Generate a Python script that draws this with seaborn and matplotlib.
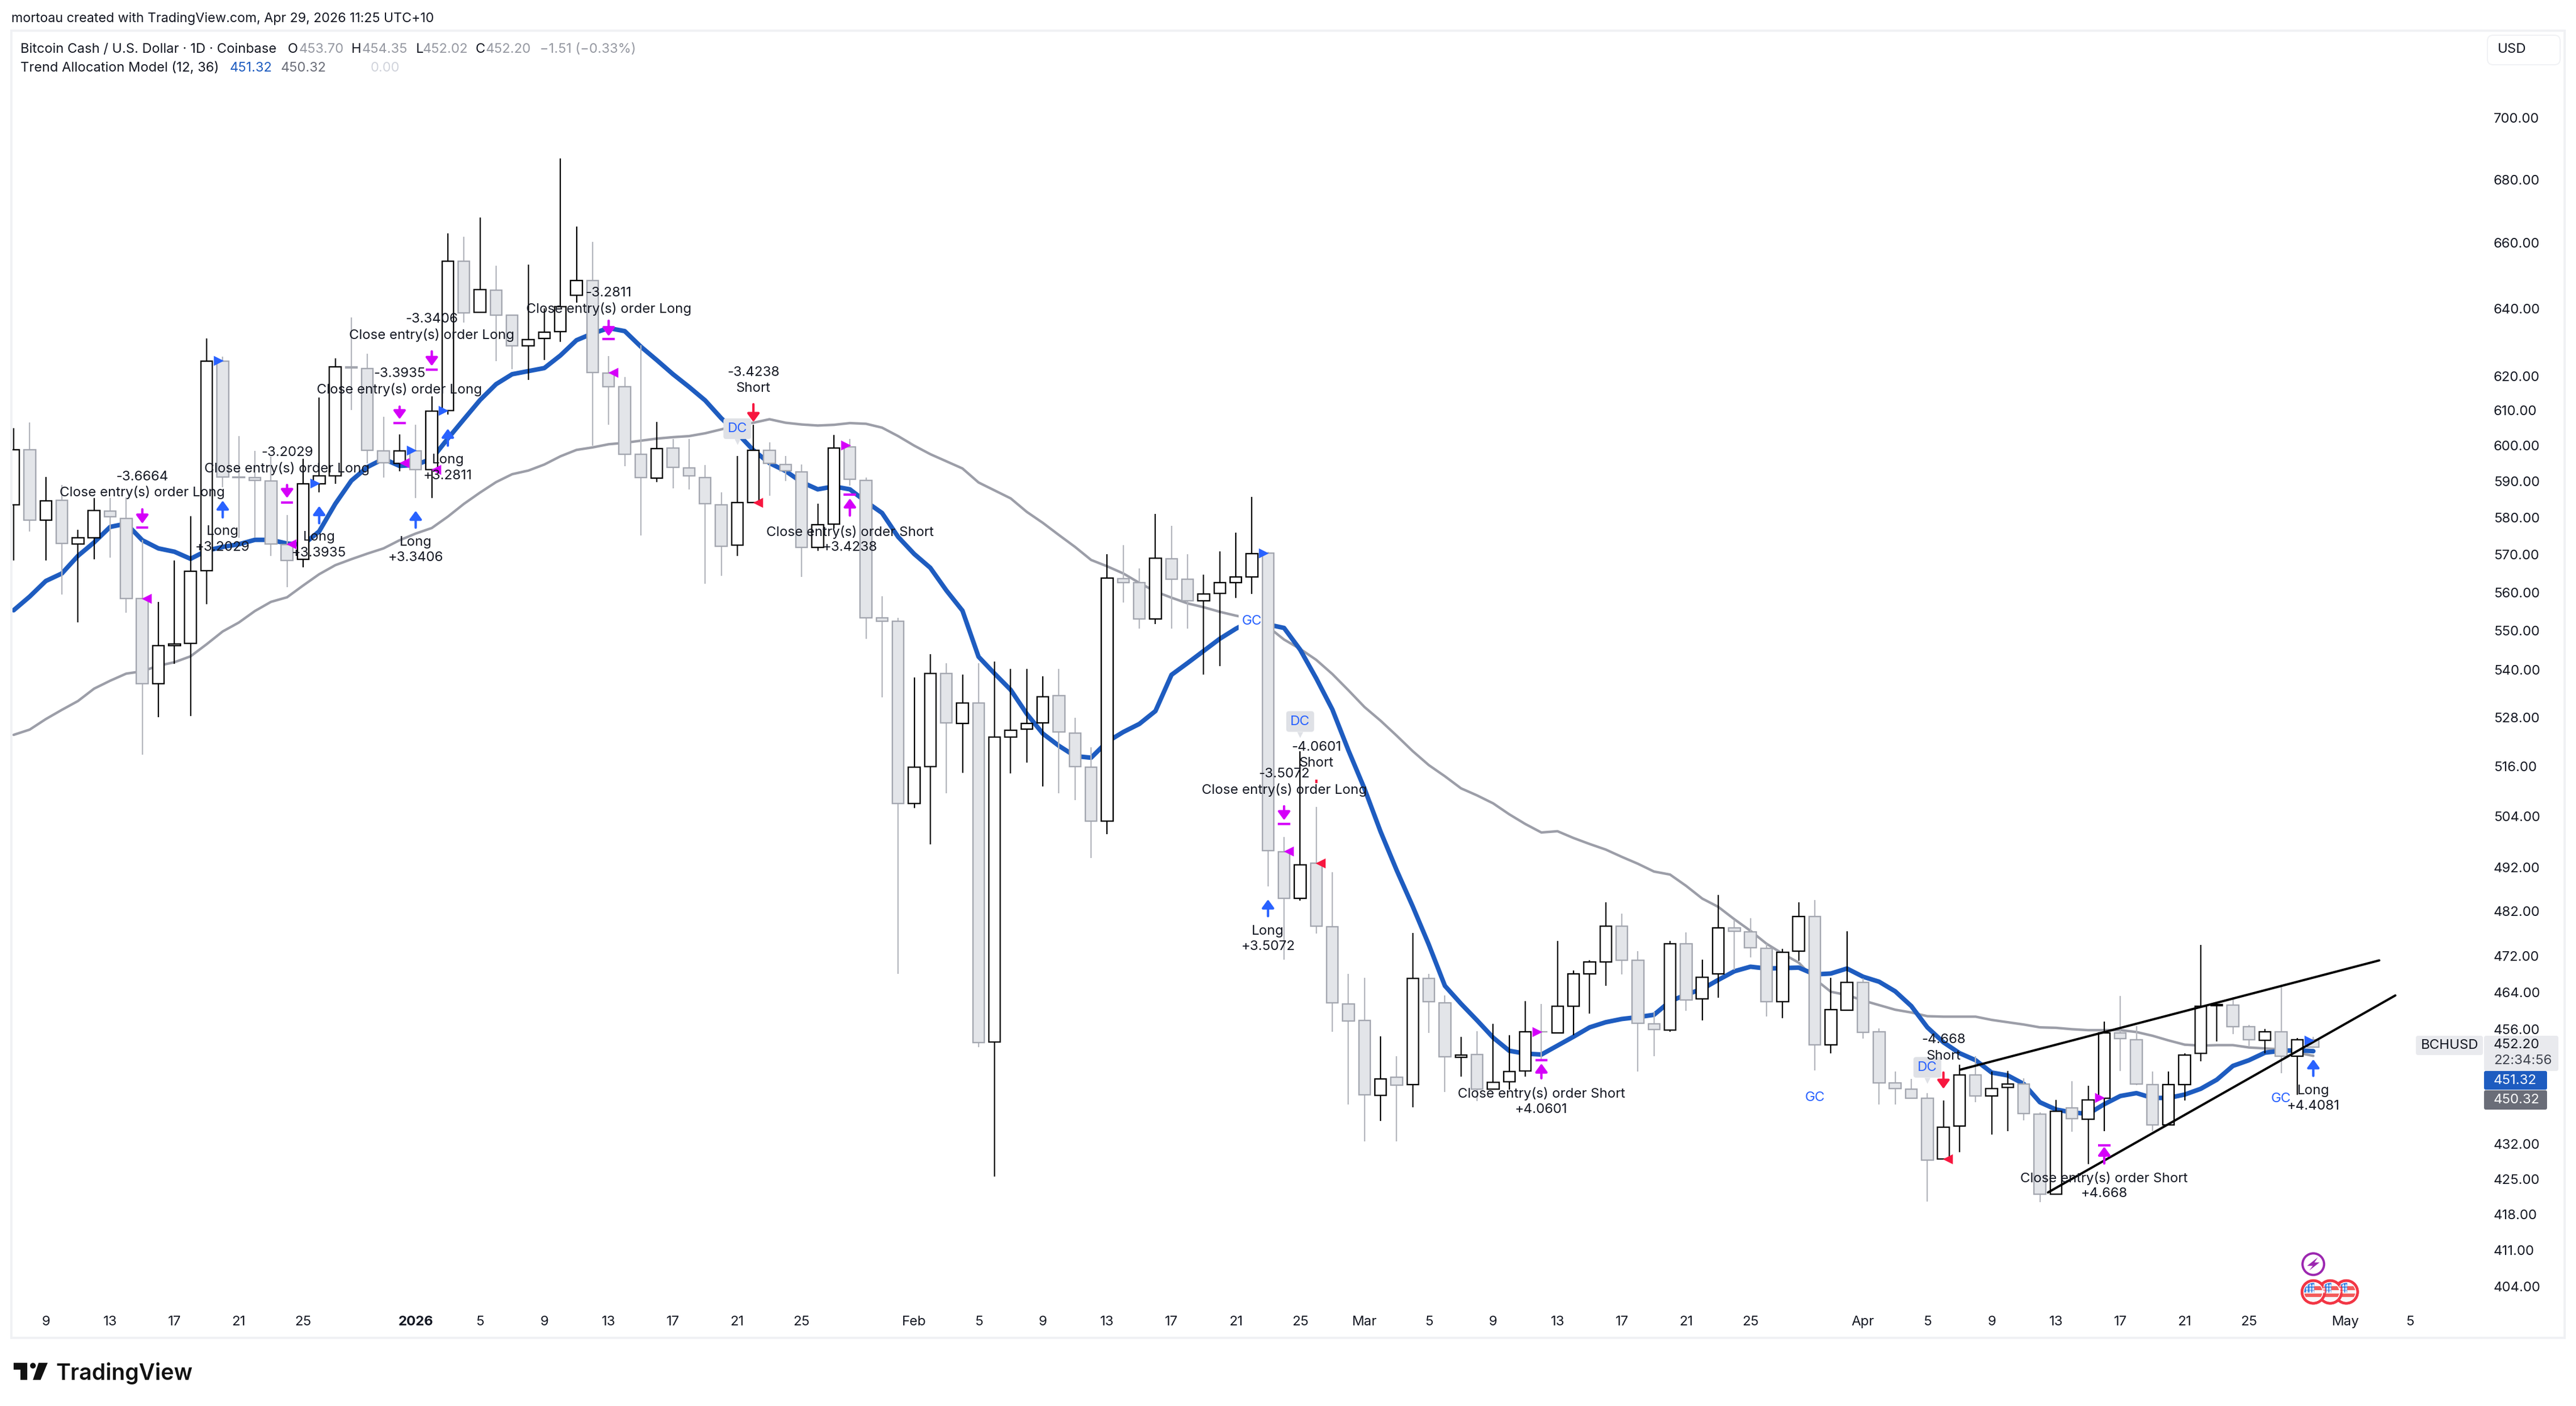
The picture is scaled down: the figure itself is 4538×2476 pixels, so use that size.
import matplotlib
matplotlib.use("Agg")
import matplotlib.pyplot as plt
import seaborn as sns
import numpy as np
import pandas as pd
from matplotlib.patches import Rectangle, Polygon, Circle, FancyBboxPatch
from matplotlib.ticker import NullLocator, FixedLocator, FixedFormatter

# ---------------- data ----------------
first_day = -2  # candle index relative to 9 Dec 2025
opens = [583.5,598.9,579.3,584.8,572.9,574.5,581.8,579.8,558.4,536.4,546.2,546.7,565.8,624.4,591.2,591.0,590.1,572.8,568.7,589.4,
591.6,622.6,622.1,598.5,595.1,598.5,593.3,610.0,654.3,638.8,645.5,637.9,628.9,631.0,633.0,643.9,648.5,620.9,616.9,597.5,
590.9,599.4,593.7,591.1,583.6,572.5,584.2,598.7,594.7,592.6,571.9,578.3,599.6,590.3,553.4,552.4,507.1,516.0,539.0,526.5,
531.6,453.3,523.2,525.1,526.7,533.4,524.1,515.8,502.9,563.6,562.6,553.1,568.9,563.5,557.8,559.7,562.6,564.1,570.5,495.7,
484.9,493.0,478.5,461.5,457.9,442.0,445.8,444.3,467.0,461.7,450.0,450.6,443.3,444.9,447.1,455.5,455.2,460.9,468.0,470.7,
478.6,471.0,457.1,455.8,474.7,462.6,468.0,478.2,477.4,473.7,461.9,473.0,480.8,452.6,460.1,466.1,455.4,444.6,443.3,441.4,
429.0,435.7,446.3,441.9,443.7,444.4,438.1,422.0,439.4,437.1,441.4,455.2,453.7,444.3,435.9,444.3,450.8,461.1,461.2,456.5,
453.6,455.4,450.2,453.70]
highs = [605.0,606.5,591.2,589.0,576.7,585.4,585.4,585.6,573.9,557.5,568.4,580.4,631.0,625.6,602.7,598.5,597.0,580.7,596.3,613.7,
625.2,637.3,626.5,608.2,603.2,606.0,614.0,663.0,662.0,668.0,653.0,638.2,653.3,640.1,686.7,665.1,660.3,625.9,619.6,629.0,
606.7,601.9,601.9,594.5,587.0,597.1,605.9,600.9,597.1,594.7,583.8,603.0,601.9,591.1,559.0,553.4,538.0,544.0,541.6,538.7,
541.6,542.0,540.2,540.2,538.3,540.2,527.9,520.7,570.2,572.5,566.3,581.0,577.8,570.1,564.7,570.9,575.9,585.7,570.7,499.1,
519.7,506.2,490.9,468.0,467.1,454.5,450.2,477.1,468.0,463.3,454.4,455.6,457.1,454.7,462.1,461.4,475.3,468.8,471.0,484.0,
481.4,473.0,459.7,475.3,477.3,471.2,485.7,480.0,480.4,474.7,473.5,484.0,484.5,467.1,477.5,467.0,456.2,447.0,445.5,442.5,
441.0,448.4,450.2,447.0,447.1,445.6,438.5,441.1,445.0,444.0,457.7,463.2,456.7,447.0,447.0,450.9,474.4,461.8,462.9,456.9,
456.0,465.6,454.1,454.35]
lows = [568.4,576.3,568.4,559.4,552.1,568.7,569.2,554.6,518.9,528.1,541.5,528.4,556.9,588.4,574.5,574.5,569.6,561.4,566.6,586.9,
589.4,610.2,595.1,591.0,592.8,585.4,585.4,608.8,635.8,638.8,624.3,622.0,618.9,624.7,630.0,641.7,600.0,606.0,594.2,575.2,
589.8,588.0,587.7,562.3,564.4,569.6,584.2,586.0,590.1,564.0,571.1,577.1,588.9,547.9,533.0,468.0,506.0,497.4,509.5,514.4,
452.2,425.5,514.3,516.9,511.1,509.5,507.9,494.2,499.8,557.3,550.6,551.7,550.5,550.5,538.7,540.9,558.6,559.5,487.7,471.1,
484.4,477.0,455.4,440.2,432.6,436.7,432.6,439.5,455.2,442.7,446.0,440.8,443.2,443.2,446.0,449.4,455.1,454.7,459.3,465.4,
467.9,447.0,450.3,455.4,460.0,457.9,462.8,468.9,471.7,458.8,458.4,470.9,447.2,450.8,460.1,454.0,440.1,440.1,441.3,420.5,
429.0,430.4,440.6,433.9,434.7,436.9,420.4,421.8,434.5,428.0,434.6,447.1,444.2,434.7,435.9,441.0,449.2,453.4,455.0,452.4,
450.8,446.7,442.1,452.02]
closes = [598.9,579.4,584.7,573.0,574.5,581.9,580.3,558.4,536.4,546.1,546.6,565.6,624.4,591.2,591.0,590.2,572.9,568.5,589.4,591.6,
622.6,622.3,598.7,595.2,598.6,593.3,609.8,654.3,638.7,645.6,638.0,628.9,630.7,632.9,640.6,648.5,621.0,616.9,597.6,591.0,
599.2,593.9,591.5,583.8,572.2,584.2,598.7,595.0,592.9,571.9,578.1,599.4,590.6,553.4,552.5,507.1,515.8,539.0,526.7,531.6,
453.2,523.2,524.9,526.5,533.2,524.4,516.0,502.9,563.8,562.6,553.1,569.0,563.4,557.8,559.5,562.5,564.1,570.3,496.0,485.0,
492.7,478.7,461.7,457.8,442.1,445.5,444.2,467.0,461.9,450.1,450.5,443.3,444.8,447.0,455.4,455.4,460.9,468.0,470.7,478.6,
471.0,457.3,455.9,474.7,462.3,467.3,478.2,477.5,473.8,461.9,472.8,480.8,452.7,460.2,466.2,455.3,444.6,443.4,441.4,428.8,
435.5,446.3,441.9,443.5,444.4,438.3,422.0,438.7,437.2,441.1,455.2,454.0,444.4,435.9,444.3,450.5,460.9,461.3,456.6,453.7,
455.4,450.2,453.7,452.20]
ema_fast = [555.3,558.9,563,565,569.7,573.3,577.5,578.4,573.9,571.7,570.8,568.9,571.1,572.1,572.8,574,574,573,572.7,576.3,
583.8,590.2,594,596.3,594.3,594.6,596.3,602,607.5,613,617.6,620.5,621.4,622.3,626,630.5,632.5,634.1,633.2,628.6,
624.6,620.5,616.8,612.9,607.8,603.5,598.7,595.1,592.9,589.8,587.8,588.6,587.8,584.4,581.3,574.8,570.2,566.5,560.5,555.2,
543.3,539,534.9,528.9,524,521,518.5,518.1,522,524.4,526.4,529.6,538.7,541.7,544.8,547.9,550.5,552.7,
551.6,550.7,545.1,537.8,530,519.9,510.6,500.4,491.4,483.1,474.5,465.4,461.5,457.9,454.2,451.4,450.8,450.6,452.5,454.4,
456.4,457.5,458.2,458.6,459.1,462,463.5,464.7,466.7,468.6,469.6,469.2,469.3,469.4,467.9,468.1,469.2,467.4,
466.3,464.2,461,456.4,453.2,450.9,449.4,446.8,446.2,444.4,440.6,439.1,438.5,438.2,440.2,441.9,442.5,441.5,441.5,442.2,
443.4,445.3,448.2,449.4,451,451.4,451.5,451.32]
ema_slow = [523.7,525,527.6,529.9,532.1,535.2,537.2,539,539.6,541,541.9,543.4,546.5,549.8,552.1,555.1,557.5,558.7,561.8,564.8,
567.2,568.8,570.3,571.7,573.9,575.7,577.2,580.3,583.8,586.9,589.8,592,593,594.7,597,598.8,599.5,600.4,600.8,601.4,
602,602.4,602.7,603.5,604.6,605.9,606.5,607.5,606.5,606,605.7,605.9,606.4,606.2,605.1,602.7,600,597.6,595.6,593.6,
589.7,587.5,585.3,581.6,578.6,575.3,572.1,568.6,566.9,565,562.5,560.2,558.6,557.1,556.1,554.9,553.9,553.1,
551,547.7,545.3,542.5,538.9,534.8,530.6,527.2,523.5,519.7,516.3,513.6,510.7,509,507.1,504.5,502.2,500.2,500.5,498.9,
497.5,496.2,494.5,492.9,491.1,490.4,487.8,484.9,483,480.2,477.6,474.7,472.5,470.5,466.9,464.1,463.4,462.2,
461.2,460.2,459.6,458.8,458.7,458.7,458.7,458,457.5,457,456.4,456.3,456,455.8,455.8,455.8,455.4,454.6,453.6,452.7,
452.5,452.6,452.6,452.1,451.9,451.7,451,450.32]

price_ticks = [700,680,660,640,620,610,600,590,580,570,560,550,540,528,516,504,492,482,472,464,456,432,425,418,411,404]
date_days = [0,4,8,12,16,23,27,31,35,39,43,47,54,58,62,66,70,74,78,82,86,90,94,98,102,106,113,117,121,125,129,133,137,143,147]
date_labels = ['9','13','17','21','25','2026','5','9','13','17','21','25','Feb','5','9','13','17','21','25','Mar','5','9','13','17','21','25','Apr','5','9','13','17','21','25','May','5']

trend_upper_x = [119.04,145.1]; trend_upper_y = [447.4,471.0]
trend_lower_x = [124.5,146.1]; trend_lower_y = [422.3,463.3]

# (day, first line price, text) stacked labels
notes = [
 (6,591.2,'-3.6664'),(6,586.9,'Close entry(s) order Long'),
 (15,598.1,'-3.2029'),(15,593.5,'Close entry(s) order Long'),
 (11,576.2,'Long'),(11,572.0,'+3.2029'),
 (17,574.7,'Long'),(17,570.5,'+3.3935'),
 (22,620.6,'-3.3935'),(22,616.0,'Close entry(s) order Long'),
 (23,573.4,'Long'),(23,569.2,'+3.3406'),
 (24,636.7,'-3.3406'),(24,632.0,'Close entry(s) order Long'),
 (25,595.9,'Long'),(25,591.5,'+3.2811'),
 (35,644.6,'-3.2811'),(35,639.8,'Close entry(s) order Long'),
 (44,621.0,'-3.4238'),(44,616.4,'Short'),
 (50,576.1,'Close entry(s) order Short'),(50,572.0,'+3.4238'),
 (77,514.1,'-3.5072'),(77,510.3,'Close entry(s) order Long'),
 (76,477.5,'Long'),(76,474.0,'+3.5072'),
 (79,520.7,'-4.0601'),(79,516.8,'Short'),
 (93,442.4,'Close entry(s) order Short'),(93,439.1,'+4.0601'),
 (118,453.7,'-4.668'),(118,450.3,'Short'),
 (128,425.1,'Close entry(s) order Short'),(128,422.1,'+4.668'),
 (141,443.0,'Long'),(141,439.8,'+4.4081'),
]
# (day, tail price, tip price)
blue_arrows = [(11,580.1,584.7),(17,578.5,583.2),(23,577.3,581.9),(25,600.0,604.8),(76,480.9,484.7),(141,446.1,449.6)]
red_arrows = [(44,611.8,606.7),(118,446.8,443.4)]
# (day, tail price, tip price, bar price)
close_long = [(6,582.3,578.4,577.3),(15,589.0,585.4,584.1),(22,611.1,607.5,606.4),(24,627.2,622.9,621.9),(35,636.3,631.7,630.9),(77,506.4,503.1,502.2)]
close_short = [(50,580.6,585.3,586.4),(93,445.6,448.7,449.4),(128,428.1,431.5,431.8)]
# triangles next to the candle: (day, price)
blue_tri = [(11,624.5),(17,589.5),(23,598.7),(25,610.0),(76,570.5),(141,453.6)]
magenta_left = [(6,558.4),(15,572.9),(22,595.2),(24,593.2),(35,621.0),(77,495.8)]
magenta_right = [(50,600.1),(93,455.5),(128,441.5)]
red_left = [(44,584.2),(79,493.0),(118,429.0)]
dc_labels = [(43,604.8),(78,527.0),(117,447.9)]
gc_labels = [(75,552.4,True),(110,441.6,False),(139,441.3,False)]
alert_flag_days = [141.0,142.05,143.05]
alert_prices = [408.3,403.0]

# ---------------- style ----------------
sns.set_theme(style='white')
FONT = ['Inter','DejaVu Sans']
plt.rcParams['font.family'] = FONT
W, H = 4538, 2476
DPI = 200
PT = 72/DPI
INK = '#131722'
UP_EDGE = '#000000'; DN_EDGE = '#a3a6af'; DN_FILL = '#e3e5e9'; DN_WICK = '#b4b6bd'
BLUE = '#1e5cc0'; GRAY = '#9c9ea8'; ARROW_BLUE = '#2962ff'; MAG = '#d500f9'; RED = '#f7173f'

fig = plt.figure(figsize=(W/DPI, H/DPI), dpi=DPI, facecolor='white')
AX_L, AX_R, AX_T, AX_B = 20, 4372, 54, 2305
ax = fig.add_axes([AX_L/W, 1-AX_B/H, (AX_R-AX_L)/W, (AX_B-AX_T)/H])
ax.set_facecolor('none')

df = pd.DataFrame({'open':opens,'high':highs,'low':lows,'close':closes,'fast':ema_fast,'slow':ema_slow})
df['day'] = np.arange(len(df)) + first_day
df['up'] = df['close'] >= df['open']

ax.set_yscale('log')
sns.lineplot(data=df, x='day', y='slow', ax=ax, color=GRAY, lw=4.4*PT, estimator=None, zorder=2)
sns.lineplot(data=df, x='day', y='fast', ax=ax, color=BLUE, lw=8*PT, estimator=None, zorder=2.1)

for up, wick, edge, fill in [(True,UP_EDGE,UP_EDGE,'white'),(False,DN_WICK,DN_EDGE,DN_FILL)]:
    s = df[df['up']==up]
    ax.vlines(s['day'], s['low'], s['high'], color=wick, lw=2.3*PT, zorder=3)
    top = s[['open','close']].max(axis=1); bot = s[['open','close']].min(axis=1)
    ax.bar(s['day'], top-bot, bottom=bot, width=0.72, color=fill, edgecolor=edge, linewidth=2.4*PT, zorder=4)

for xs, ys in [(trend_upper_x,trend_upper_y),(trend_lower_x,trend_lower_y)]:
    ax.plot(xs, ys, color='black', lw=4*PT, zorder=5, solid_capstyle='round')

TXT = 24*PT
for d,p,s in notes:
    ax.text(d,p,s,ha='center',va='center',fontsize=TXT,color=INK,zorder=10)

def arrow(d,tail,tip,c):
    ax.annotate('',xy=(d,tip),xytext=(d,tail),zorder=8,
                arrowprops=dict(arrowstyle='-|>,head_width=0.4,head_length=0.55',mutation_scale=8,color=c,lw=4.2*PT,shrinkA=0,shrinkB=0))
for d,a,b in blue_arrows: arrow(d,a,b,ARROW_BLUE)
for d,a,b in red_arrows: arrow(d,a,b,RED)
for d,a,b,bar in close_long+close_short:
    arrow(d,a,b,MAG)
    ax.hlines(bar,d-0.38,d+0.38,color=MAG,lw=4.2*PT,zorder=8)
ax.vlines(79,511.9,512.8,color=RED,lw=4*PT,zorder=8)

def tris(pts,off,marker,c):
    ax.scatter([d+off for d,_ in pts],[p for _,p in pts],marker=marker,s=40,color=c,linewidths=0,zorder=9)
tris(blue_tri,-0.27,'>',ARROW_BLUE)
tris(magenta_right,-0.27,'>',MAG)
tris(magenta_left,0.27,'<',MAG)
tris(red_left,0.27,'<',RED)

for d,p in dc_labels:
    ax.text(d,p,'DC',ha='center',va='center',fontsize=TXT,color=ARROW_BLUE,zorder=9,
            bbox=dict(boxstyle='round,pad=0.3,rounding_size=0.2',fc='#dfe1e6',ec='none'))
    ax.scatter([d],[p*0.9938],marker='v',s=14,color='#dfe1e6',linewidths=0,zorder=8.9)
for d,p,box in gc_labels:
    kw = dict(bbox=dict(boxstyle='square,pad=0.25',fc='white',ec='none')) if box else {}
    ax.text(d,p,'GC',ha='center',va='center',fontsize=TXT,color=ARROW_BLUE,zorder=3.5,**kw)

ax.set_xlim((AX_L-80.7)/28.33,(AX_R-80.7)/28.33)
ax.set_ylim(399.8,729.3)
ax.yaxis.set_major_locator(FixedLocator(price_ticks))
ax.yaxis.set_major_formatter(FixedFormatter([f'{t:.2f}' for t in price_ticks]))
ax.yaxis.set_minor_locator(NullLocator())
ax.xaxis.set_minor_locator(NullLocator())
ax.set_xticks(date_days); ax.set_xticklabels(date_labels)
ax.tick_params(axis='y',which='both',left=False,right=False,labelleft=False,labelright=True,pad=21*PT,labelsize=24*PT,labelcolor=INK,length=0)
ax.tick_params(axis='x',which='both',bottom=False,pad=12*PT,labelsize=24*PT,labelcolor=INK,length=0)
for t in ax.get_xticklabels():
    if t.get_text()=='2026': t.set_fontweight('bold')
ax.set_xlabel(''); ax.set_ylabel('')
for sp in ax.spines.values(): sp.set_visible(False)

# ---------------- pixel overlay for chrome ----------------
ov = fig.add_axes([0,0,1,1],zorder=20); ov.set_xlim(0,W); ov.set_ylim(H,0); ov.axis('off'); ov.patch.set_alpha(0)
ov.add_patch(Rectangle((20,54),4498,2302,fc='none',ec='#f0f1f4',lw=4*PT))
def T(x,y,s,c=INK,size=23.6,ha='left',weight='normal'):
    ov.text(x,y,s,color=c,fontsize=size*PT,ha=ha,va='center',fontweight=weight)
T(20,33,'mortoau created with TradingView.com, Apr 29, 2026 11:25 UTC+10',size=23.2)
GR='#9598a1'
T(36,87,'Bitcoin Cash / U.S. Dollar · 1D · Coinbase')
for x,s,c in [(507,'O',INK),(527,'453.70',GR),(619,'H',INK),(638,'454.35',GR),(733,'L',INK),(745,'452.02',GR),(838,'C',INK),(856,'452.20',GR),(951,'−1.51 (−0.33%)',GR)]:
    T(x,87,s,c)
T(36,120,'Trend Allocation Model (12, 36)')
T(405,120,'451.32',BLUE); T(495,120,'450.32','#6a6d78'); T(653,120,'0.00','#d1d4dc')
ov.add_patch(FancyBboxPatch((4382,62),128,52,boxstyle='round,pad=0,rounding_size=10',fc='white',ec='#f0f1f4',lw=2*PT))
T(4425,87,'USD',size=24,ha='center')
ov.add_patch(FancyBboxPatch((4256,1824),118,34,boxstyle='round,pad=0,rounding_size=4',fc='#e9eaee',ec='none'))
T(4316,1841,'BCHUSD',ha='center',size=24)
ov.add_patch(FancyBboxPatch((4376,1824),131,62,boxstyle='round,pad=0,rounding_size=4',fc='#e9eaee',ec='none'))
T(4393,1840,'452.20',size=24); T(4393,1868,'22:34:56','#3e424d',size=24)
ov.add_patch(FancyBboxPatch((4376,1886),111,33,boxstyle='round,pad=0,rounding_size=3',fc=BLUE,ec='none'))
T(4393,1903,'451.32','white',size=24)
ov.add_patch(FancyBboxPatch((4376,1920),111,34,boxstyle='round,pad=0,rounding_size=3',fc='#6a6d78',ec='none'))
T(4393,1937,'450.32','white',size=24)

# alert icons, placed from the chart's scales
def to_px(d,p):
    x,y = ax.transData.transform((d,p))
    return x/fig.dpi/fig.get_figwidth()*W, H - y/fig.dpi/fig.get_figheight()*H
cx,cy = to_px(alert_flag_days[0],alert_prices[0])
ov.add_patch(Circle((cx,cy),19,fc='white',ec='#9c27b0',lw=4*PT))
ov.add_patch(Polygon([(cx+8,cy-12),(cx-11,cy+3),(cx-1,cy+3),(cx-7,cy+11),(cx+11,cy-3),(cx+2,cy-3)],fc='#9c27b0',ec='none'))
for d in reversed(alert_flag_days):
    fx,fy = to_px(d,alert_prices[1])
    ov.add_patch(Circle((fx,fy),20,fc='white',ec='#f23645',lw=4.5*PT))
    clip = Circle((fx,fy),16,transform=ov.transData)
    for dy,c in [(-16,'#f7f7fa'),(-10,'#f45b5b'),(-3,'#f7f7fa'),(3,'#f45b5b'),(9,'#f7f7fa')]:
        r = ov.add_patch(Rectangle((fx-17,fy+dy),34,7,fc=c,ec='none')); r.set_clip_path(clip)
    r = ov.add_patch(Rectangle((fx-17,fy-17),19,18,fc='#2f7de1',ec='none')); r.set_clip_path(clip)
    for sx in (-11,-5,0):
        for sy in (-11,-5,0):
            pt, = ov.plot(fx+sx,fy+sy,marker='*',ms=2.6,color='white',mew=0); pt.set_clip_path(clip)
    ov.add_patch(Circle((fx,fy),20,fc='none',ec='#f23645',lw=4.5*PT))
ov.set_xlim(0,W); ov.set_ylim(H,0)

# logo
LOGO='#111111'
ov.add_patch(Polygon([(24,2400),(48.3,2400),(48.3,2430),(36,2430),(36,2412),(24,2412)],fc=LOGO,ec='none'))
ov.add_patch(Circle((58,2405),5,fc=LOGO,ec='none'))
ov.add_patch(Polygon([(68,2400),(84,2400),(71.5,2430),(58,2430)],fc=LOGO,ec='none'))
ov.text(98,2430,'TradingView',fontsize=39*PT,fontweight='semibold',color=LOGO,va='baseline',ha='left')

fig.savefig('out.png',dpi=DPI,facecolor='white')
